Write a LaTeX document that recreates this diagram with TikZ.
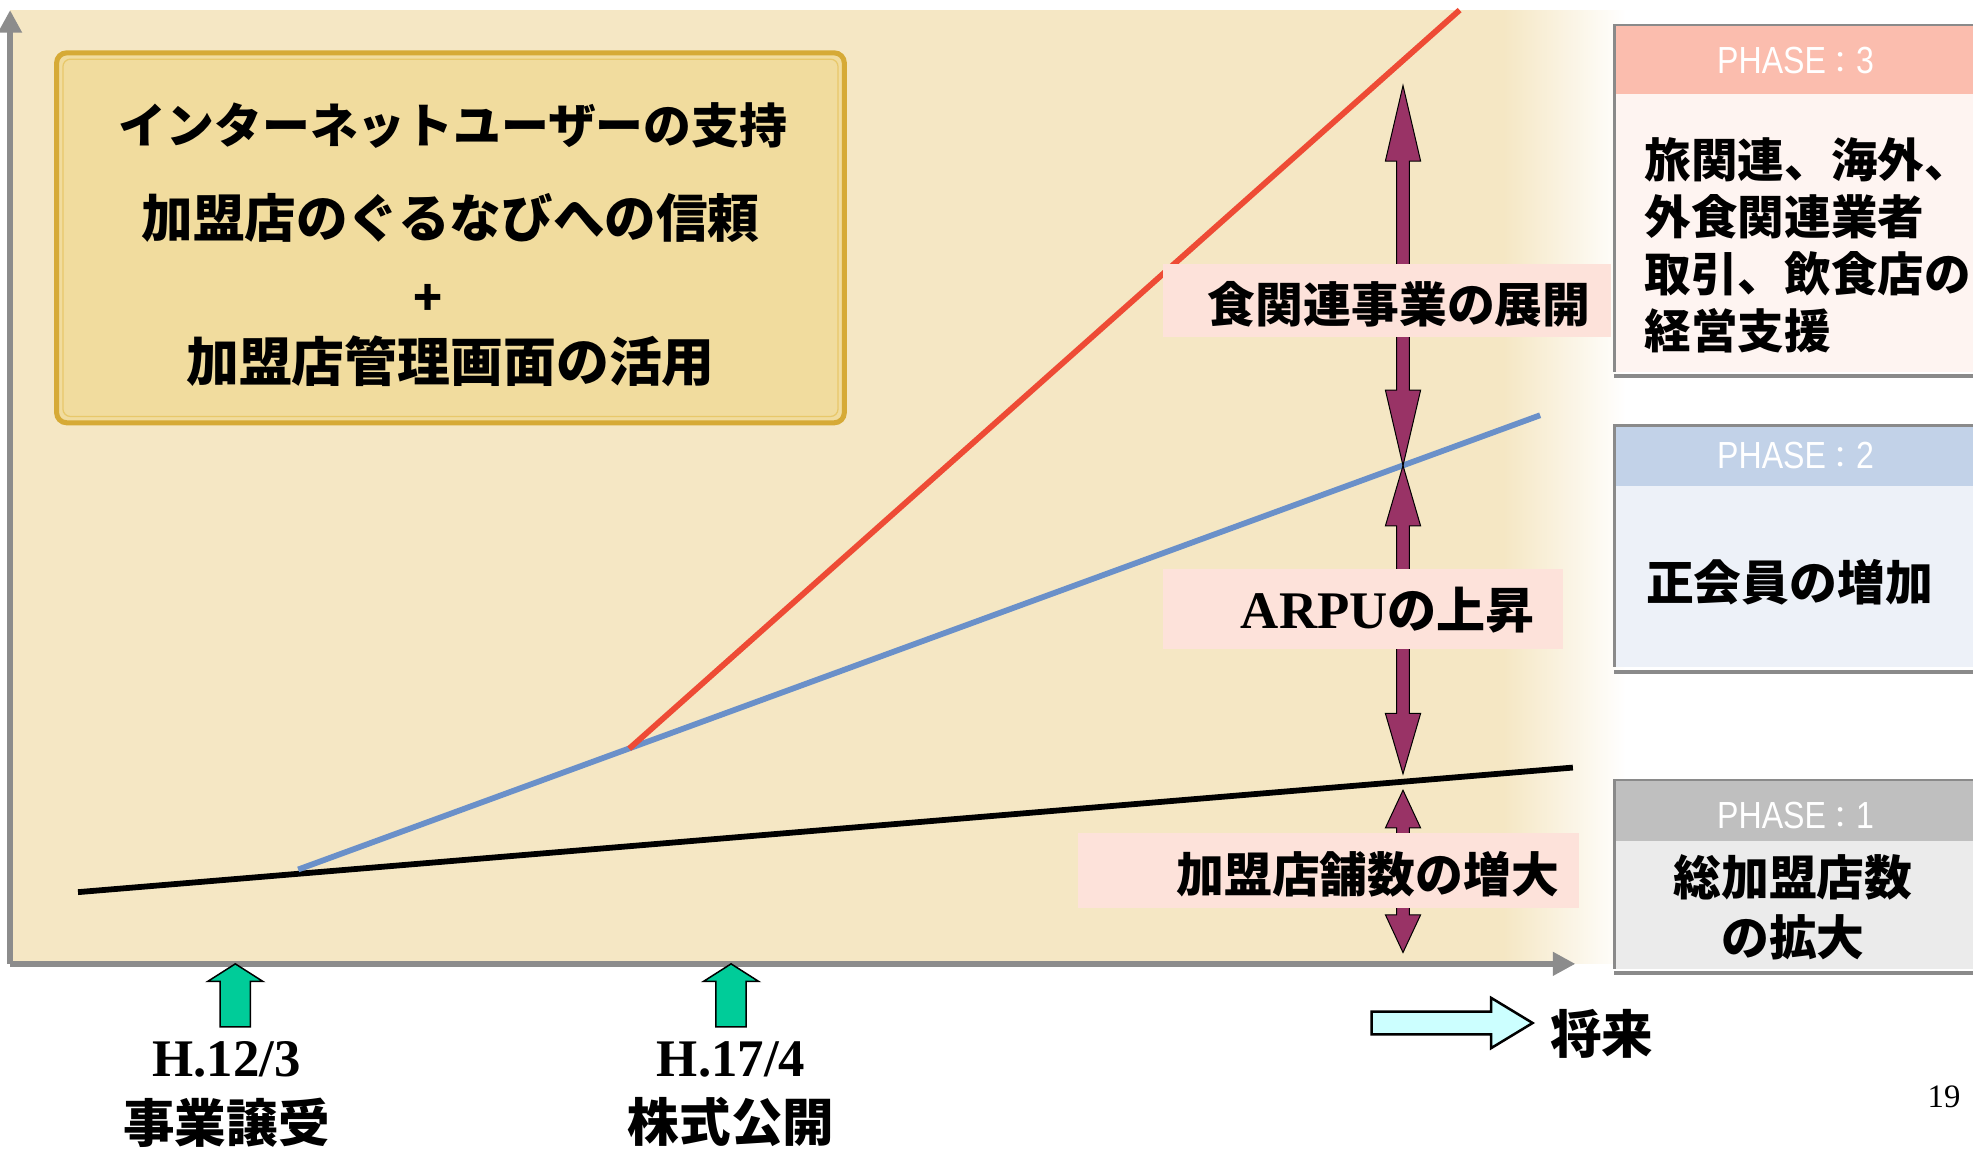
\documentclass[tikz,border=0pt]{standalone}
\usepackage{fontspec}
\newfontfamily\jp{Noto Sans CJK JP}
\newfontfamily\tms{Liberation Serif}
\newfontfamily\phs[FakeStretch=0.85]{Liberation Sans}
\usetikzlibrary{arrows.meta}
\definecolor{tan}{HTML}{F5E7C4}
\definecolor{boxfill}{HTML}{F1DC9E}
\definecolor{gold}{HTML}{D6AA36}
\definecolor{goldlight}{HTML}{E8C86A}
\definecolor{redl}{HTML}{EE4B35}
\definecolor{bluel}{HTML}{6A90C9}
\definecolor{purp}{HTML}{993366}
\definecolor{pinklab}{HTML}{FDE2DA}
\definecolor{phthreeh}{HTML}{FBBDAE}
\definecolor{phthreeb}{HTML}{FEF4F1}
\definecolor{phtwoh}{HTML}{C2D2E8}
\definecolor{phtwob}{HTML}{EDF1F8}
\definecolor{phoneh}{HTML}{BFBFBF}
\definecolor{phoneb}{HTML}{EBEBEB}
\definecolor{axisgrey}{HTML}{8C8C8C}
\definecolor{boxgrey}{HTML}{8A8A8A}
\definecolor{greenarr}{HTML}{00CC99}
\definecolor{cyanarr}{HTML}{CCFFFF}
\tikzset{
  jptext/.style={font=\jp\bfseries\fontsize{38}{46}\selectfont, inner sep=0pt},
  phasetext/.style={font=\phs\fontsize{30}{34}\selectfont, text=white, inner sep=0pt},
  datetext/.style={font=\tms\bfseries\fontsize{42}{48}\selectfont, inner sep=0pt},
  labelbox/.style={fill=pinklab, draw=none},
  purparrow/.style={fill=purp, draw=black, line width=0.8pt, line join=miter},
  greenarrow/.style={fill=greenarr, draw=black, line width=1.2pt, line join=miter},
  axisline/.style={draw=axisgrey, line width=4.5pt, -{Triangle[length=18pt,width=18pt]}},
  growth/.style={line width=4.6pt},
}
\newcommand{\vdblarrow}[5]{% x, top, bottom, headlen, name
  \draw[purparrow] (#1,#2) -- (#1+14,#2+#4) -- (#1+5,#2+#4) -- (#1+5,#3-#4) -- (#1+14,#3-#4)
    -- (#1,#3) -- (#1-14,#3-#4) -- (#1-5,#3-#4) -- (#1-5,#2+#4) -- (#1-14,#2+#4) -- cycle;
  \coordinate (#5) at (#1,#2);
}
\newcommand{\greenup}[2]{% x, name
  \draw[greenarrow] (#1,766) -- (#1+22,780) -- (#1+12,780) -- (#1+12,816) -- (#1-12,816)
    -- (#1-12,780) -- (#1-22,780) -- cycle;
  \coordinate (#2) at (#1,766);
}
\begin{document}
\begin{tikzpicture}[x=1pt,y=-1pt]
\useasboundingbox (0,0) rectangle (1568,918);
\fill[white] (0,0) rectangle (1568,918);
% background
\fill[tan] (8,8) rectangle (1196,766);
\shade[left color=tan, right color=white, draw=none] (1195,8) rectangle (1292,766);
% axes
\coordinate (origin) at (8,766);
\coordinate (ytop) at (8,8);
\coordinate (xend) at (1252,766);
\draw[axisline] (origin) -- (ytop);
\draw[axisline] (origin) -- (xend);
% growth lines
\coordinate (k0) at (62,709);
\coordinate (k1) at (1250,610);
\coordinate (b0) at (237,691);
\coordinate (b1) at (1224,330);
\coordinate (r0) at (500,595);
\coordinate (r1) at (1160,8);
\draw[growth, black] (k0) -- (k1);
\draw[growth, bluel] (b0) -- (b1);
\draw[growth, redl] (r0) -- (r1);
% top-left box
\draw[fill=boxfill, draw=gold, line width=4pt, rounded corners=8pt] (45,42) rectangle (671,336);
\draw[draw=goldlight, line width=1pt, rounded corners=6pt] (50,47) rectangle (666,331);
\node[jptext] (t1) at (360,100) {インターネットユーザーの支持};
\node[jptext, font=\jp\bfseries\fontsize{41}{48}\selectfont] (t2) at (358,173) {加盟店のぐるなびへの信頼};
\node[jptext] (t3) at (340,238) {+};
\node[jptext, font=\jp\bfseries\fontsize{42}{48}\selectfont] (t4) at (358,287) {加盟店管理画面の活用};
% purple arrows
\vdblarrow{1115}{68}{370}{60}{a1}
\vdblarrow{1115}{370}{615}{48}{a2}
\vdblarrow{1115}{628}{757}{30}{a3}
% labels
\fill[labelbox] (924,210) rectangle (1280,268);
\node[jptext] (l1) at (1112,242) {食関連事業の展開};
\fill[labelbox] (924,452) rectangle (1242,516);
\node[inner sep=0pt] (l2) at (1103,485) {{\tms\bfseries\fontsize{42}{46}\selectfont ARPU}{\jp\bfseries\fontsize{39}{46}\selectfont の上昇}};
\fill[labelbox] (857,662) rectangle (1255,722);
\node[jptext] (l3) at (1087,695) {加盟店舗数の増大};
% phase 3
\fill[phthreeb] (1283,20) rectangle (1568,296);
\fill[phthreeh] (1283,20) rectangle (1568,75);
\draw[boxgrey, line width=2pt] (1568,20) -- (1283,20) -- (1283,296);
\draw[boxgrey, line width=3pt] (1283,299) -- (1568,299);
\node[phasetext] (p3) at (1427,48) {PHASE{\jp\fontsize{24}{28}\selectfont ：}3};
\node[jptext, align=left, anchor=west, font=\jp\bfseries\fontsize{37}{45.5}\selectfont] (p3t) at (1307,195) {旅関連、海外、\\外食関連業者\\取引、飲食店の\\経営支援};
% phase 2
\fill[phtwob] (1283,338) rectangle (1568,530);
\fill[phtwoh] (1283,338) rectangle (1568,386);
\draw[boxgrey, line width=2pt] (1568,338) -- (1283,338) -- (1283,530);
\draw[boxgrey, line width=3pt] (1283,534) -- (1568,534);
\node[phasetext] (p2) at (1427,362) {PHASE{\jp\fontsize{24}{28}\selectfont ：}2};
\node[jptext, anchor=west] (p2t) at (1308,463) {正会員の増加};
% phase 1
\fill[phoneb] (1283,620) rectangle (1568,770);
\fill[phoneh] (1283,620) rectangle (1568,668);
\draw[boxgrey, line width=2pt] (1568,620) -- (1283,620) -- (1283,770);
\draw[boxgrey, line width=3pt] (1283,773) -- (1568,773);
\node[phasetext] (p1) at (1427,648) {PHASE{\jp\fontsize{24}{28}\selectfont ：}1};
\node[jptext, align=center, font=\jp\bfseries\fontsize{38}{48}\selectfont] (p1t) at (1425,721) {総加盟店数\\の拡大};
% green milestone arrows
\greenup{187}{g1}
\greenup{581}{g2}
\node[datetext] (d1) at (180,842) {H.12/3};
\node[jptext, font=\jp\bfseries\fontsize{41}{46}\selectfont] (e1) at (180,892) {事業譲受};
\node[datetext] (d2) at (581,842) {H.17/4};
\node[jptext, font=\jp\bfseries\fontsize{41}{46}\selectfont] (e2) at (581,892) {株式公開};
% future arrow
\draw[fill=cyanarr, draw=black, line width=2pt, line join=miter] (1090,804) -- (1185,804) -- (1185,793) -- (1218,813)
  -- (1185,833) -- (1185,822) -- (1090,822) -- cycle;
\node[jptext, font=\jp\bfseries\fontsize{41}{46}\selectfont] (fut) at (1273,822) {将来};
% page number
\node[font=\tms\fontsize{26}{30}\selectfont, inner sep=0pt] (pg) at (1545,872) {19};
\end{tikzpicture}
\end{document}
